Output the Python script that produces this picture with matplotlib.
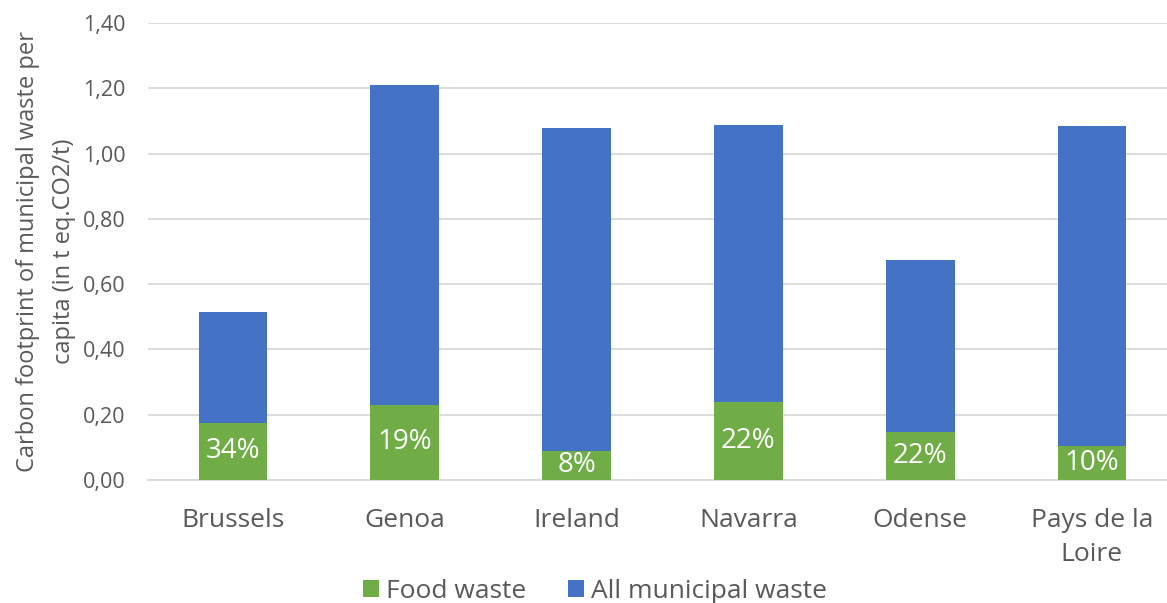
import matplotlib
matplotlib.use("Agg")
import matplotlib.pyplot as plt
import numpy as np

# Carbon footprint of municipal waste per capita (t eq.CO2/t)
regions = ["Brussels", "Genoa", "Ireland", "Navarra", "Odense", "Pays de la\nLoire"]
all_waste = [0.515, 1.210, 1.078, 1.088, 0.674, 1.085]
food_waste = [0.175, 0.231, 0.089, 0.239, 0.147, 0.104]
y_ticks = [0.0, 0.2, 0.4, 0.6, 0.8, 1.0, 1.2, 1.4]

BLUE = "#4472C4"
GREEN = "#70AD47"
TEXT = "#595959"
GRID = "#D9D9D9"

plt.rcParams["font.family"] = ["Open Sans", "DejaVu Sans"]

fig = plt.figure(figsize=(11.67, 6.03), dpi=100)
ax = fig.add_axes([148 / 1167, 1 - 480 / 603, (1167 - 148) / 1167, (480 - 23) / 603])

x = np.arange(len(regions))
width = 0.40
ax.bar(x, all_waste, width, color=BLUE, label="All municipal waste", zorder=2)
ax.bar(x, food_waste, width, color=GREEN, label="Food waste", zorder=3)

for xi, f, t in zip(x, food_waste, all_waste):
    ax.text(xi, f / 2, f"{round(f / t * 100):.0f}%", ha="center", va="center",
            color="white", fontsize=20, zorder=4)

ax.set_xlim(-0.495, 5.437)
ax.set_ylim(0, 1.4)
ax.set_yticks(y_ticks)
ax.set_yticklabels([f"{v:.2f}".replace(".", ",") for v in y_ticks])
ax.set_xticks(x)
ax.set_xticklabels(regions)
ax.tick_params(axis="both", length=0, colors=TEXT, labelsize=15.5)
ax.tick_params(axis="y", pad=16)
ax.tick_params(axis="x", pad=20, labelsize=19)
for lbl in ax.get_xticklabels():
    lbl.set_linespacing(1.5)
    lbl.set_color(TEXT)

ax.grid(axis="y", color=GRID, linewidth=1.3, zorder=0)
ax.set_axisbelow(True)
for s in ["top", "right", "left"]:
    ax.spines[s].set_visible(False)
ax.spines["bottom"].set_color(GRID)
ax.spines["bottom"].set_linewidth(1.3)

ylab = ax.set_ylabel("Carbon footprint of municipal waste per\ncapita (in t eq.CO2/t)",
                     fontsize=17, color=TEXT, labelpad=5)
ylab.set_linespacing(1.65)

handles, labels = ax.get_legend_handles_labels()
fig.legend(handles[::-1], labels[::-1], loc="center", bbox_to_anchor=(595 / 1167, 1 - 591 / 603),
           ncol=2, frameon=False, fontsize=19, labelcolor=TEXT,
           handlelength=0.6, handleheight=0.6, handletextpad=0.25, columnspacing=1.6)

fig.savefig("out.png", dpi=100)
